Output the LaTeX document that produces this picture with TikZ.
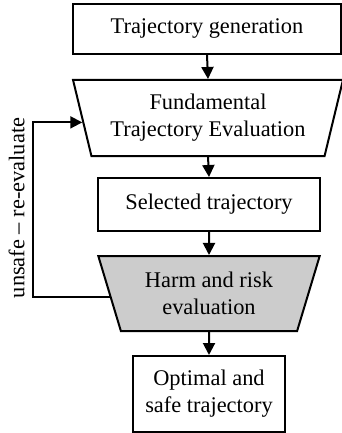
\documentclass[tikz,border=0pt]{standalone}
\usepackage{fontspec}
\setmainfont{Liberation Serif}
\usetikzlibrary{shapes.geometric,arrows.meta}
\definecolor{harmgray}{RGB}{204,204,204}
\begin{document}
\begin{tikzpicture}[x=0.5pt,y=-0.5pt,
  font=\fontsize{11.2}{13.5}\selectfont,
  every node/.style={line width=1pt, align=center, inner sep=0pt},
  box/.style={draw, rectangle},
  trap/.style={draw, trapezium, shape border rotate=180, trapezium stretches=true},
  arr/.style={line width=1pt, -{Triangle[length=6pt,width=6pt]}}]
\useasboundingbox (0,0) rectangle (342,433);
\node[box, minimum width=134pt, minimum height=25pt] (gen) at (207,29) {Trajectory generation};
\node[trap, trapezium left angle=72, trapezium right angle=72, minimum width=135pt, minimum height=38pt] (fte) at (208,118) {Fundamental\\Trajectory Evaluation};
\node[box, minimum width=111pt, minimum height=26.5pt] (sel) at (209,204.5) {Selected trajectory};
\node[trap, fill=harmgray, trapezium left angle=69, trapezium right angle=69, minimum width=111pt, minimum height=37.5pt] (harm) at (209,293.5) {Harm and risk\\evaluation};
\node[box, minimum width=76pt, minimum height=38pt] (opt) at (209,394) {Optimal and\\safe trajectory};
\coordinate (fbx) at (33,0);
\draw[arr] (gen.south) -- (fte.north);
\draw[arr] (fte.south) -- (sel.north);
\draw[arr] (sel.south) -- (harm.north);
\draw[arr] (harm.south) -- (opt.north);
\draw[arr] (harm.182) -- (fbx |- harm.182) -- (fbx |- fte.182) -- (fte.182);
\node[rotate=90, anchor=base] (lbl) at (24.5,208) {unsafe -- re-evaluate};
\end{tikzpicture}
\end{document}
